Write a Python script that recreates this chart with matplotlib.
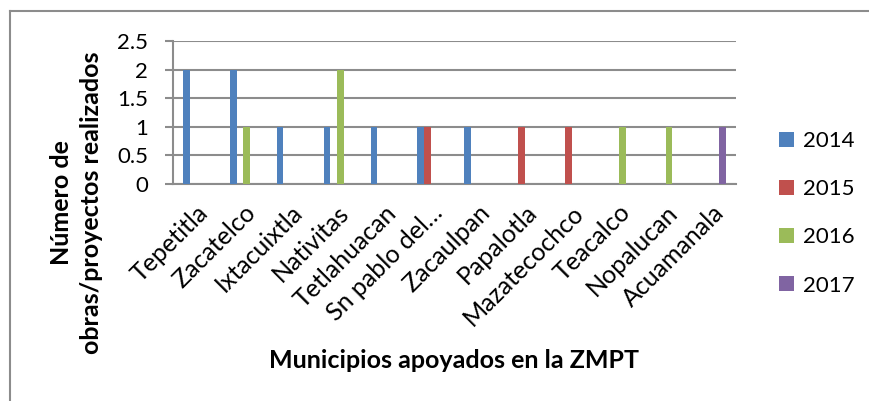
import matplotlib
matplotlib.use("Agg")
import matplotlib.pyplot as plt
import numpy as np
from matplotlib.lines import Line2D

plt.rcParams['font.family'] = ['Lato', 'DejaVu Sans']

categories = ["Tepetitla", "Zacatelco", "Ixtacuixtla", "Nativitas", "Tetlahuacan",
              "Sn pablo del…", "Zacaulpan", "Papalotla", "Mazatecochco", "Teacalco",
              "Nopalucan", "Acuamanala"]
series_names = ["2014", "2015", "2016", "2017"]
v2014 = [2, 2, 1, 1, 1, 1, 1, 0, 0, 0, 0, 0]
v2015 = [0, 0, 0, 0, 0, 1, 0, 1, 1, 0, 0, 0]
v2016 = [0, 1, 0, 2, 0, 0, 0, 0, 0, 1, 1, 0]
v2017 = [0, 0, 0, 0, 0, 0, 0, 0, 0, 0, 0, 1]
colors = ["#4F81BD", "#C0504D", "#9BBB59", "#8064A2"]
yticks = [0, 0.5, 1, 1.5, 2, 2.5]
ytick_labels = ["0", "0.5", "1", "1.5", "2", "2.5"]

W, H = 869, 401
fig = plt.figure(figsize=(W / 100, H / 100), dpi=100)
ax = fig.add_axes([173 / W, 1 - 184 / H, (736 - 173) / W, (184 - 41) / H])

x = np.arange(len(categories))
bw = 0.145
values = [v2014, v2015, v2016, v2017]
for i, (vals, name, c) in enumerate(zip(values, series_names, colors)):
    ax.bar(x + (i - 1.5) * bw, vals, width=bw, color=c, label=name, zorder=3)

ax.set_xlim(-0.5, len(categories) - 0.5)
ax.set_ylim(0, 2.5)
ax.set_yticks(yticks)
ax.set_yticklabels(ytick_labels, fontsize=16)
ax.yaxis.grid(True, color="#8C8C8C", linewidth=1.5, zorder=0)
ax.tick_params(axis='y', length=6, width=1.5, color="#8C8C8C", pad=12)
ax.tick_params(axis='x', length=0, pad=12)
ax.set_xticks(x)
ax.set_xticklabels(categories, rotation=45, ha='right', va='top',
                   rotation_mode='anchor', fontsize=18)
for s in ['top', 'right']:
    ax.spines[s].set_visible(False)
ax.spines['left'].set_color("#8C8C8C")
ax.spines['left'].set_linewidth(1.5)
ax.spines['bottom'].set_color("#8C8C8C")
ax.spines['bottom'].set_linewidth(1.5)

ax.set_xlabel("Municipios apoyados en la ZMPT", fontsize=18, fontweight='bold')
ax.xaxis.set_label_coords((454 - 173) / (736 - 173), 1 - (349 - 41) / (184 - 41))
ax.set_ylabel("Número de\nobras/proyectos realizados", fontsize=18, fontweight='bold',
              linespacing=1.36)
ax.yaxis.set_label_coords((103 - 173) / (736 - 173), 1 - (203 - 41) / (184 - 41))

leg = fig.legend(loc='upper left', bbox_to_anchor=(779 / W, 1 - 131 / H), frameon=False,
                 fontsize=16, handlelength=0.66, handleheight=0.66, handletextpad=0.4,
                 labelspacing=1.27, borderpad=0, borderaxespad=0)

fig.add_artist(Line2D([10 / W, 1], [1 - 11 / H, 1 - 11 / H], color="#8C8C8C", linewidth=1.5))
fig.add_artist(Line2D([10 / W, 10 / W], [0, 1 - 11 / H], color="#8C8C8C", linewidth=1.5))

fig.savefig("out.png", dpi=100)
